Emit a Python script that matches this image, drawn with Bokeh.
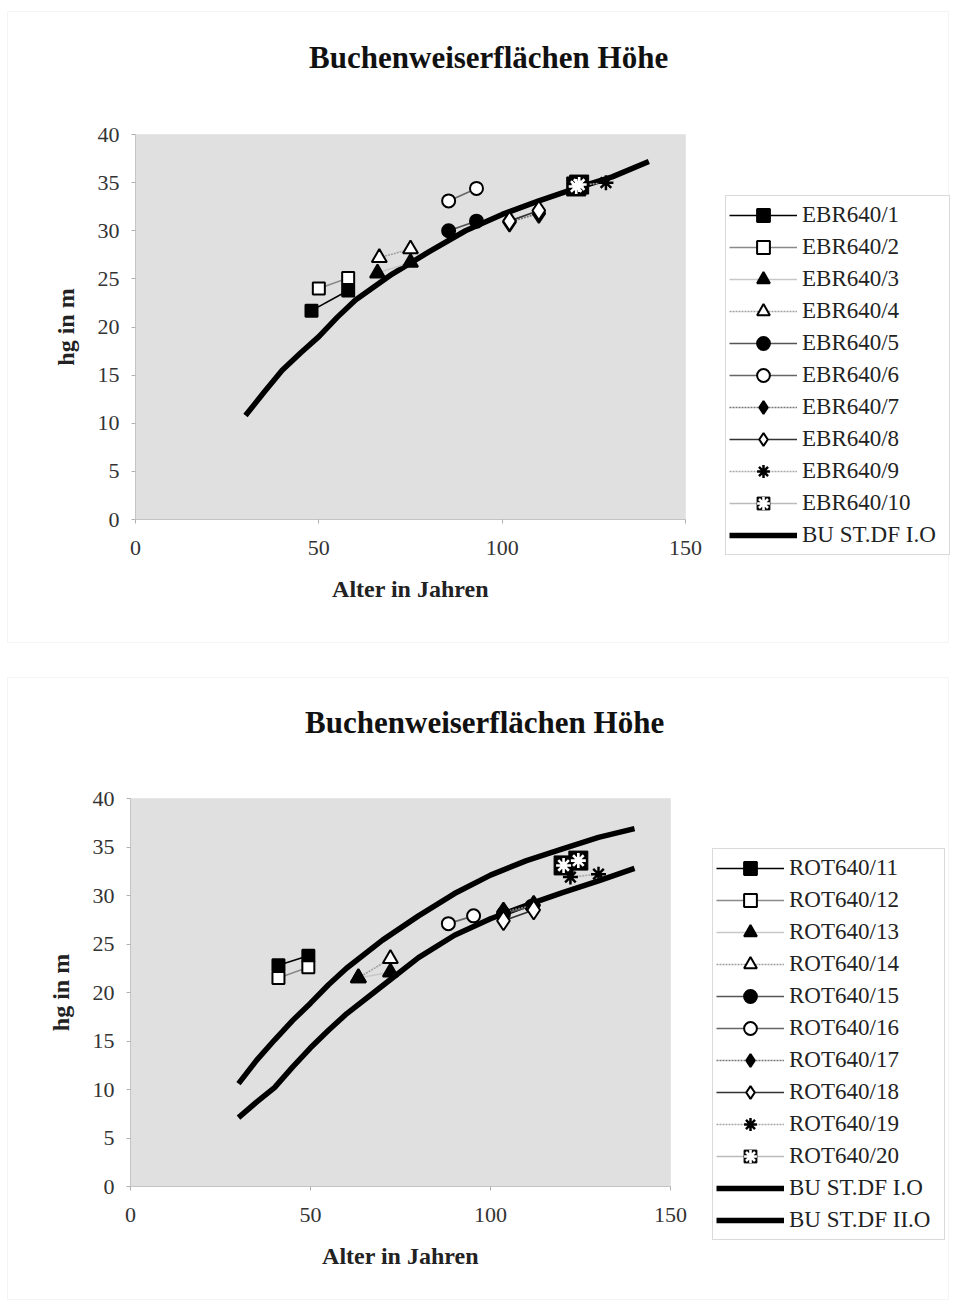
from bokeh.plotting import figure
from bokeh.models import (Legend, LegendItem, FixedTicker, Range1d, Label, BoxAnnotation)
from bokeh.embed import file_html
from bokeh.resources import INLINE

FONT = "Liberation Serif"

# ---------------- data: top chart ----------------
curve_ages = [30, 35, 40, 45, 50, 55, 60, 70, 80, 90, 100, 110, 120, 130, 140]
top_bu_df_I = [10.8, 13.2, 15.5, 17.3, 19.0, 21.0, 22.8, 25.5, 27.8, 30.0, 31.7, 33.1, 34.4, 35.6, 37.2]

top_names = ["EBR640/1", "EBR640/2", "EBR640/3", "EBR640/4", "EBR640/5",
             "EBR640/6", "EBR640/7", "EBR640/8", "EBR640/9", "EBR640/10"]
top_age = [[48, 58], [50, 58], [66, 75], [66.5, 75], [85.4, 93],
           [85.4, 93], [102, 110], [102, 110], [120.6, 128.3], [120.2, 121.0]]
top_hg = [[21.7, 23.8], [24.0, 25.1], [25.6, 26.7], [27.2, 28.1], [30.0, 31.0],
          [33.1, 34.4], [30.9, 31.8], [31.0, 32.1], [34.7, 35.0], [34.6, 34.8]]

# ---------------- data: bottom chart ----------------
bot_bu_df_I = [10.6, 13.0, 15.1, 17.1, 18.9, 20.8, 22.5, 25.4, 27.9, 30.2, 32.1, 33.6, 34.8, 36.0, 36.9]
bot_bu_df_II = [7.1, 8.7, 10.2, 12.3, 14.3, 16.1, 17.8, 20.7, 23.6, 25.9, 27.6, 29.0, 30.3, 31.5, 32.8]

bot_names = ["ROT640/11", "ROT640/12", "ROT640/13", "ROT640/14", "ROT640/15",
             "ROT640/16", "ROT640/17", "ROT640/18", "ROT640/19", "ROT640/20"]
bot_age = [[41.1, 49.4], [41.1, 49.4], [63.3, 72.2], [63.3, 72.2], [103.6, 111.5],
           [88.3, 95.3], [103.6, 112], [103.6, 112], [122.2, 130], [120.3, 124.4]]
bot_hg = [[22.8, 23.8], [21.5, 22.6], [21.5, 22.1], [21.5, 23.5], [28.1, 28.9],
          [27.1, 27.9], [28.3, 29.0], [27.4, 28.5], [31.9, 32.2], [33.1, 33.6]]

x_ticks = [0, 50, 100, 150]
y_ticks = [0, 5, 10, 15, 20, 25, 30, 35, 40]
x_lim = (0, 150)
y_lim = (0, 40)
title_text = "Buchenweiserflächen  Höhe"
x_title = "Alter in Jahren"
y_title = "hg in m"

# ---------------- styles ----------------
STYLES = [
    dict(marker="square", fill="black", size=12, lc="black", dash="solid"),
    dict(marker="square", fill="white", size=12, lc="#8a8a8a", dash="solid"),
    dict(marker="triangle", fill="black", size=15, lc="#c8c8c8", dash="solid"),
    dict(marker="triangle", fill="white", size=15, lc="#a0a0a0", dash="2 1"),
    dict(marker="circle", fill="black", size=13, lc="#555555", dash="solid"),
    dict(marker="circle", fill="white", size=13, lc="#666666", dash="solid"),
    dict(marker="diamond", fill="black", size=19, lc="#777777", dash="2 1"),
    dict(marker="diamond", fill="white", size=19, lc="#333333", dash="solid"),
    dict(marker="asterisk", fill="black", size=15, lc="#a8a8a8", dash="2 1"),
    dict(marker="xbox", fill="black", size=19, lc="#bbbbbb", dash="solid"),
]


def add_series(p, xs, ys, st):
    rs = [p.line(xs, ys, line_color=st["lc"], line_width=1.6, line_dash=st["dash"])]
    m = st["marker"]
    if m == "asterisk":
        rs.append(p.scatter(xs, ys, marker="asterisk", size=st["size"],
                            line_color="black", line_width=2.5))
    elif m == "xbox":
        rs.append(p.scatter(xs, ys, marker="square", size=st["size"],
                            fill_color="black", line_color="black", line_width=1))
        rs.append(p.scatter(xs, ys, marker="asterisk", size=st["size"] - 4,
                            line_color="white", line_width=2.6))
    else:
        rs.append(p.scatter(xs, ys, marker=m, size=st["size"],
                            fill_color=st["fill"], line_color="black", line_width=2))
    return rs


def make_fig(W, H, px0, px1, py0, py1, ages, hgs, names, curves,
             legend_xy, label_width, title_xy, panel_box, draw_order):
    # pixel layout -> ranges so that x_lim/y_lim land on the wanted pixels
    xs_per_px = (x_lim[1] - x_lim[0]) / (px1 - px0)
    ys_per_px = (y_lim[1] - y_lim[0]) / (py0 - py1)
    xr = Range1d(x_lim[0] - px0 * xs_per_px, x_lim[1] + (W - px1) * xs_per_px)
    yr = Range1d(y_lim[0] - (H - py0) * ys_per_px, y_lim[1] + py1 * ys_per_px)

    p = figure(width=W, height=H, output_backend="svg", toolbar_location=None,
               x_range=xr, y_range=yr, min_border=0)
    p.min_border_left = p.min_border_right = p.min_border_top = p.min_border_bottom = 0
    p.background_fill_color = "white"
    p.border_fill_color = "white"
    p.outline_line_color = None
    p.xgrid.visible = False
    p.ygrid.visible = False

    # panel frame (faint) and gray plot area
    pl, pr, pt, pb = panel_box
    p.add_layout(BoxAnnotation(left=pl, right=pr, top=H - pt, bottom=H - pb,
                               left_units="screen", right_units="screen",
                               top_units="screen", bottom_units="screen",
                               fill_alpha=0, line_color="#dcdcdc", line_width=1,
                               level="underlay"))
    p.add_layout(BoxAnnotation(left=x_lim[0], right=x_lim[1], bottom=y_lim[0], top=y_lim[1],
                               fill_color="#e0e0e0", fill_alpha=1.0,
                               line_color="#d2d2d2", line_width=1, level="underlay"))

    p.xaxis.ticker = FixedTicker(ticks=x_ticks)
    p.yaxis.ticker = FixedTicker(ticks=y_ticks)
    p.xaxis.fixed_location = y_lim[0]
    p.yaxis.fixed_location = x_lim[0]
    p.xaxis.bounds = x_lim
    p.yaxis.bounds = y_lim
    for ax in (p.xaxis, p.yaxis):
        ax.axis_line_color = "#c4c4c4"
        ax.major_tick_line_color = "#b0b0b0"
        ax.major_tick_in = 0
        ax.major_tick_out = 4
        ax.minor_tick_line_color = None
        ax.major_label_text_font = FONT
        ax.major_label_text_font_size = "22px"
        ax.major_label_text_color = "#333333"
        ax.axis_label_text_font = FONT
        ax.axis_label_text_font_size = "24px"
        ax.axis_label_text_font_style = "bold"
        ax.axis_label_text_color = "#222222"
    p.xaxis.axis_label = x_title
    p.yaxis.axis_label = y_title
    p.xaxis.major_label_standoff = 17
    p.yaxis.major_label_standoff = 12
    p.xaxis.axis_label_standoff = 18
    p.yaxis.axis_label_standoff = 16

    tx, ty = title_xy
    p.add_layout(Label(x=tx, y=H - ty, x_units="screen", y_units="screen", text=title_text,
                       text_font=FONT, text_font_size="31px", text_font_style="bold",
                       text_align="center", text_baseline="middle", text_color="#111111"))

    curve_items = []
    for cname, cvals in curves:
        r = p.line(curve_ages, cvals, line_color="black", line_width=5.5)
        curve_items.append(LegendItem(label=cname, renderers=[r]))
    series_items = {}
    for i in draw_order:
        rs = add_series(p, ages[i], hgs[i], STYLES[i])
        series_items[i] = LegendItem(label=names[i], renderers=rs)
    items = [series_items[i] for i in range(len(names))] + curve_items

    lx, lb = legend_xy
    legend = Legend(items=items, location=(lx, H - lb), orientation="vertical",
                    glyph_width=68, glyph_height=32, label_height=32, spacing=0,
                    padding=3, margin=0, label_standoff=5, label_width=label_width,
                    label_text_font=FONT, label_text_font_size="23px",
                    label_text_color="#222222", label_text_baseline="middle",
                    border_line_color="#b5b5b5", border_line_width=1,
                    background_fill_color="white", background_fill_alpha=1.0)
    p.add_layout(legend)
    return p


# page-pixel layout of each panel (canvas-relative)
p1 = make_fig(950, 660, 135, 685, 519, 134, top_age, top_hg, top_names,
              [("BU ST.DF I.O", top_bu_df_I)], (725, 555), 144, (492, 57),
              (7, 948, 11, 642), list(range(10)))
p2 = make_fig(950, 640, 130, 670, 526, 138, bot_age, bot_hg, bot_names,
              [("BU ST.DF I.O", bot_bu_df_I), ("BU ST.DF II.O", bot_bu_df_II)],
              (712, 580), 152, (488, 62), (7, 948, 17, 639),
              [0, 1, 3, 2, 4, 5, 6, 7, 8, 9])

open("out.html", "w").write(file_html([p1, p2], INLINE))
